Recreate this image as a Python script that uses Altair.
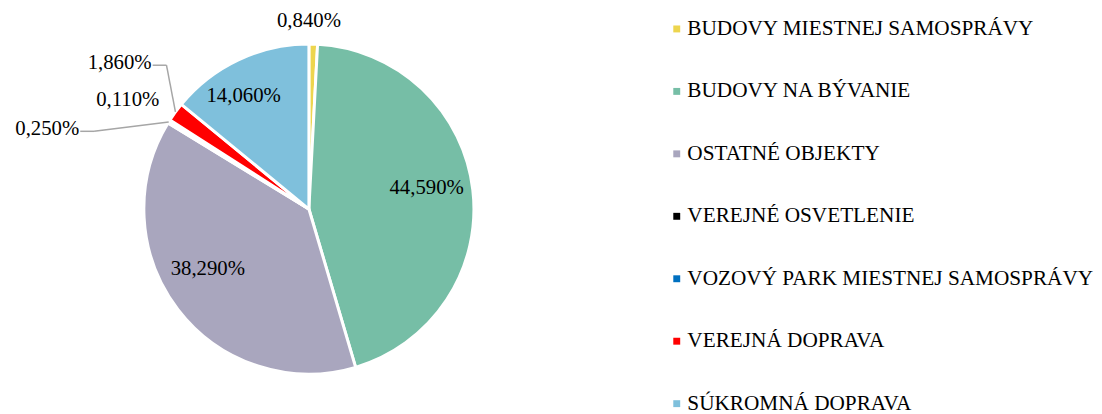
import altair as alt
import numpy as np
import pandas as pd

# ---- data ----
categories = [
    "BUDOVY MIESTNEJ SAMOSPRÁVY",
    "BUDOVY NA BÝVANIE",
    "OSTATNÉ OBJEKTY",
    "VEREJNÉ OSVETLENIE",
    "VOZOVÝ PARK MIESTNEJ SAMOSPRÁVY",
    "VEREJNÁ DOPRAVA",
    "SÚKROMNÁ DOPRAVA",
]
shares = [0.84, 44.59, 38.29, 0.25, 0.11, 1.86, 14.06]
colors = ["#EDD54E", "#76BEA6", "#A9A6BE", "#000000", "#0070C0", "#FF0000", "#7FC0DC"]

# ---- label layout (placement only) ----
label_angle_offset = [-1.5, -3.3, 6.8, -12.7, 3.5, 6.8, -4.7]  # degrees from slice middle
label_radius = [190, 121, 119, 246, 187, 217, 132]
outside = [False, False, False, True, True, True, False]  # right-aligned outside labels
leader = [False, False, False, True, False, True, False]

W, H = 609, 402
R = 167
cx, cy = W / 2, H / 2
FONT = "Liberation Serif"
FS = 21

vals = np.array(shares)
total = vals.sum()
start = np.cumsum(vals) - vals
mid_deg = (start + vals / 2) / total * 360.0
lab_deg = mid_deg + np.array(label_angle_offset)

df = pd.DataFrame({
    "idx": list(range(len(categories))),
    "cat": categories,
    "share": shares,
    "lab": [f"{v:.3f}".replace(".", ",") + "%" for v in shares],
    "la": np.radians(lab_deg),
    "lr": label_radius,
    "outside": outside,
})

# leader lines: slice edge -> elbow -> label end
rows = []
for i, flag in enumerate(leader):
    if not flag:
        continue
    a = np.radians(mid_deg[i])
    ex, ey = cx + R * np.sin(a), cy - R * np.cos(a)
    la = np.radians(lab_deg[i])
    lx = cx + label_radius[i] * np.sin(la) + 1
    ly = cy - label_radius[i] * np.cos(la) + 2
    bx = lx + 14
    rows.append({"x1": ex, "y1": ey, "x2": bx, "y2": ly})
    rows.append({"x1": bx, "y1": ly, "x2": lx, "y2": ly})
lead_df = pd.DataFrame(rows)

base = alt.Chart(df)

arcs = base.mark_arc(outerRadius=R, stroke="white", strokeWidth=3).encode(
    theta=alt.Theta("share:Q", stack=True),
    color=alt.Color(
        "cat:N",
        scale=alt.Scale(domain=categories, range=colors),
        sort=categories,
        legend=alt.Legend(
            title=None,
            orient="none",
            legendX=666,
            legendY=8,
            symbolType="square",
            symbolSize=49,
            symbolStrokeWidth=0,
            labelFont=FONT,
            labelFontSize=21.5,
            labelColor="#000000",
            labelOffset=0,
            labelLimit=0,
            rowPadding=40.2,
        ),
    ),
    order=alt.Order("idx:Q"),
)

text_in = base.transform_filter("!datum.outside").mark_text(
    font=FONT, fontSize=FS, color="#000000", align="center", baseline="middle"
).encode(
    theta=alt.Theta("la:Q", scale=None),
    radius=alt.Radius("lr:Q", scale=None),
    text="lab:N",
)

text_out = base.transform_filter("datum.outside").mark_text(
    font=FONT, fontSize=FS, color="#000000", align="right", baseline="middle"
).encode(
    theta=alt.Theta("la:Q", scale=None),
    radius=alt.Radius("lr:Q", scale=None),
    text="lab:N",
)

leads = alt.Chart(lead_df).mark_rule(color="#A6A6A6", strokeWidth=1.5).encode(
    x=alt.X("x1:Q", scale=None, axis=None),
    y=alt.Y("y1:Q", scale=None, axis=None),
    x2="x2:Q",
    y2="y2:Q",
)

chart = alt.layer(arcs, leads, text_in, text_out).properties(
    width=W, height=H, padding=0
).configure_view(stroke=None)

chart.save("out.html", embed_options={"renderer": "svg", "actions": False})
